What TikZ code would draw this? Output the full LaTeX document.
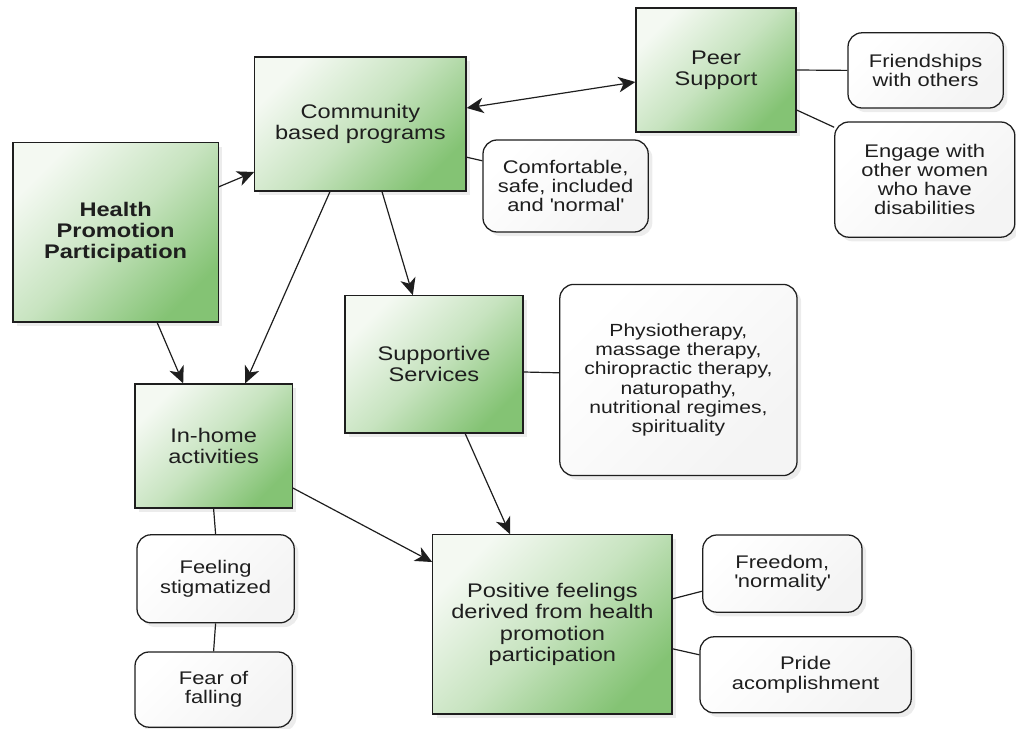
\documentclass[tikz,border=0pt]{standalone}
\usepackage{fontspec}
\setmainfont[FakeStretch=1.2]{Liberation Sans}
\usepackage{xcolor}
\usepackage{tikz}
\usetikzlibrary{arrows.meta, shadows}
\definecolor{boxgreen}{RGB}{132,195,116}
\definecolor{boxlight}{RGB}{244,249,242}
\definecolor{inkgray}{RGB}{30,30,30}

\begin{document}
\begin{tikzpicture}[transform shape,
	gbox/.style={draw=inkgray, line width=0.9pt, top color=boxlight, bottom color=boxgreen, middle color=boxgreen!40!boxlight, shading angle=45, text=inkgray, align=center, font=\fontsize{14pt}{15pt}\selectfont, drop shadow={opacity=0.15, shadow xshift=3pt, shadow yshift=-3pt}},
	rbox/.style={draw=inkgray, line width=0.9pt, rounded corners=0.35cm, top color=white, bottom color=gray!9, shading angle=45, text=inkgray, align=center, font=\fontsize{13pt}{13.6pt}\selectfont, drop shadow={opacity=0.15, shadow xshift=3pt, shadow yshift=-3pt}},
	link/.style={draw=inkgray, line width=0.85pt},
	arr/.style={link, -{Stealth[length=12pt, width=11pt, inset=3.5pt]}},
	dblarr/.style={link, {Stealth[length=12pt, width=11pt, inset=3.5pt]}-{Stealth[length=12pt, width=11pt, inset=3.5pt]}}]
			% Boxes, links and arrows:
			\useasboundingbox (0, 0) rectangle (25.4, 18.2);
			\node[gbox, minimum width=5.13cm, minimum height=4.48cm](N1) at (2.89, 12.39){\bfseries Health\\\bfseries Promotion\\\bfseries Participation};
			\node[gbox, minimum width=5.28cm, minimum height=3.35cm](N2) at (9.01, 15.1){Community\\based programs};
			\node[gbox, minimum width=4cm, minimum height=3.1cm](N3) at (17.9, 16.45){Peer\\Support};
			\node[rbox, minimum width=3.88cm, minimum height=1.88cm](N4) at (23.14, 16.44){Friendships\\with others};
			\node[rbox, minimum width=4.5cm, minimum height=2.88cm](N5) at (23.12, 13.71){Engage with\\other women\\who have\\disabilities};
			\node[rbox, minimum width=4.13cm, minimum height=2.3cm](N6) at (14.14, 13.55){Comfortable,\\safe, included\\and \textquotesingle normal\textquotesingle};
			\node[gbox, minimum width=4.45cm, minimum height=3.43cm](N7) at (10.85, 9.09){Supportive\\Services};
			\node[rbox, minimum width=5.93cm, minimum height=4.78cm, font=\fontsize{12.5pt}{13.7pt}\selectfont](N8) at (16.96, 8.7){Physiotherapy,\\massage therapy,\\chiropractic therapy,\\naturopathy,\\nutritional regimes,\\spirituality};
			\node[gbox, minimum width=3.93cm, minimum height=3.1cm](N9) at (5.34, 7.05){In-home\\activities};
			\node[rbox, minimum width=3.93cm, minimum height=2.2cm](N10) at (5.39, 3.73){Feeling\\stigmatized};
			\node[rbox, minimum width=3.93cm, minimum height=1.88cm](N11) at (5.34, 0.96){Fear of\\falling};
			\node[gbox, minimum width=5.98cm, minimum height=4.48cm](N12) at (13.81, 2.59){Positive feelings\\derived from health\\promotion\\participation};
			\node[rbox, minimum width=3.98cm, minimum height=1.93cm](N13) at (19.56, 3.86){Freedom,\\\textquotesingle normality\textquotesingle};
			\node[rbox, minimum width=5.28cm, minimum height=1.9cm](N14) at (20.14, 1.33){Pride\\acomplishment};
			\draw[arr] ([yshift=1.14cm]N1.east) -- ([yshift=-1.2cm]N2.west);
			\draw[dblarr] ([yshift=0.4cm]N2.east) -- ([yshift=-0.3cm]N3.west);
			\draw[link] ([yshift=-0.83cm]N2.east) -- ([yshift=0.63cm]N6.west);
			\draw[arr] ([xshift=-0.76cm]N2.south) -- ([xshift=0.79cm]N9.north);
			\draw[arr] ([xshift=0.54cm]N2.south) -- ([xshift=-0.53cm]N7.north);
			\draw[arr] ([xshift=1.04cm]N1.south) -- ([xshift=-0.76cm]N9.north);
			\draw[link] (N3.east) -- (N4.west);
			\draw[link] ([yshift=-1cm]N3.east) -- (N5.150);
			\draw[link] ([yshift=-0.19cm]N7.east) -- ([yshift=0.18cm]N8.west);
			\draw[arr] ([xshift=0.78cm]N7.south) -- ([xshift=-1.06cm]N12.north);
			\draw[arr] ([yshift=-1.05cm]N9.east) -- ([yshift=1.56cm]N12.west);
			\draw[link] (N9.south) -- (N10.north);
			\draw[link] (N10.south) -- (N11.north);
			\draw[link] ([yshift=0.64cm]N12.east) -- ([yshift=-0.44cm]N13.west);
			\draw[link] ([yshift=-0.61cm]N12.east) -- ([yshift=0.5cm]N14.west);
		\end{tikzpicture}
\end{document}
